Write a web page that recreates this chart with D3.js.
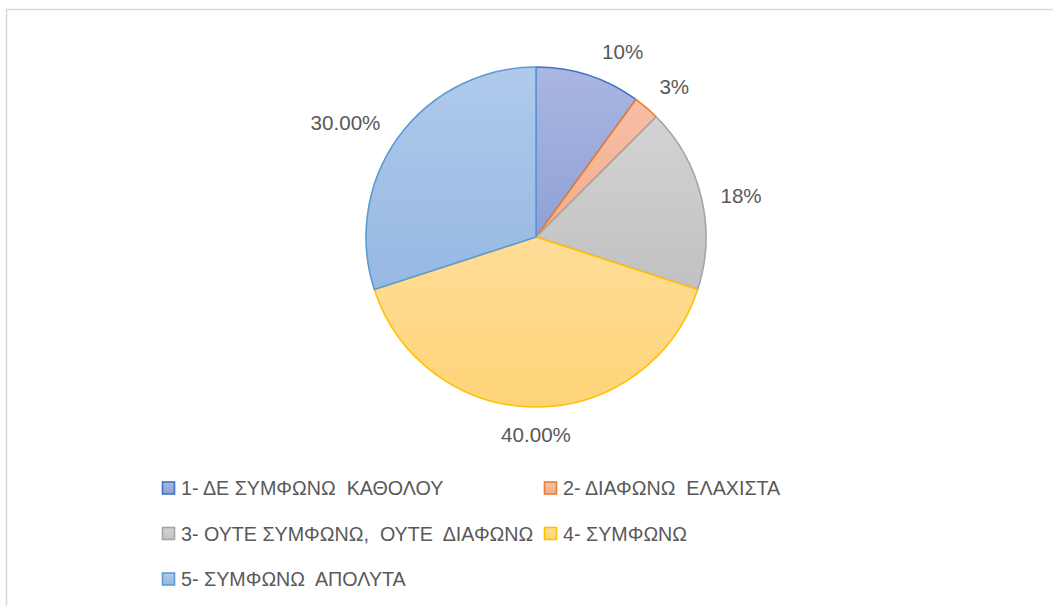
<!DOCTYPE html>
<html>
<head>
<meta charset="utf-8">
<script src="https://cdn.jsdelivr.net/npm/d3@7/dist/d3.min.js"></script>
<style>
  html, body { margin: 0; padding: 0; background: #fff; }
  svg { display: block; }
  text { font-family: "Liberation Sans", Arial, sans-serif; fill: #595959; white-space: pre; }
</style>
</head>
<body>
<svg id="chart" width="1053" height="606"></svg>
<script>
// Response categories and their shares (percent)
const categories = [
  "1- ΔΕ ΣΥΜΦΩΝΩ  ΚΑΘΟΛΟΥ",
  "2- ΔΙΑΦΩΝΩ  ΕΛΑΧΙΣΤΑ",
  "3- ΟΥΤΕ ΣΥΜΦΩΝΩ,  ΟΥΤΕ  ΔΙΑΦΩΝΩ",
  "4- ΣΥΜΦΩΝΩ",
  "5- ΣΥΜΦΩΝΩ  ΑΠΟΛΥΤΑ"
];
const values = [10, 2.5, 17.5, 40, 30];
// Decimal places used by each data label
const labelDecimals = [0, 0, 0, 2, 2];

// Slice styling: gradient top, gradient bottom, outline
const fillTop    = ["#aab6e2", "#f7bfa5", "#d3d3d3", "#fedd98", "#afcaeb"];
const fillBottom = ["#8fa1d6", "#f4ad8e", "#c1c1c1", "#fed477", "#96b8e2"];
const strokes    = ["#4472c4", "#ed7d31", "#a5a5a5", "#ffc000", "#5b9bd5"];

const svg = d3.select("#chart");
const W = 1053, H = 606;

// chart-area frame (right and bottom edges fall outside the view)
svg.append("rect")
  .attr("x", 6.5).attr("y", 9.5)
  .attr("width", W + 10).attr("height", H + 10)
  .attr("fill", "#fff").attr("stroke", "#d9d9d9").attr("stroke-width", 1.5);

const defs = svg.append("defs");
categories.forEach((c, i) => {
  const g = defs.append("linearGradient")
    .attr("id", "grad" + i)
    .attr("x1", 0).attr("y1", 0).attr("x2", 0).attr("y2", 1);
  g.append("stop").attr("offset", "0%").attr("stop-color", fillTop[i]);
  g.append("stop").attr("offset", "100%").attr("stop-color", fillBottom[i]);
});

const cx = 536, cy = 237, R = 170;

const pie = d3.pie().sort(null).value(d => d.value);
const data = pie(values.map((v, i) => ({ value: v, i })));
const arc = d3.arc().innerRadius(0).outerRadius(R);

const g = svg.append("g").attr("transform", `translate(${cx},${cy})`);

g.selectAll("path.slice")
  .data(data)
  .join("path")
  .attr("class", "slice")
  .attr("d", arc)
  .attr("fill", d => `url(#grad${d.data.i})`)
  .attr("stroke", d => strokes[d.data.i])
  .attr("stroke-width", 1.6)
  .attr("stroke-linejoin", "round");

// data labels, placed just outside the rim along each slice's direction
const labelSize = 20.6;
const labelGap = 17;
const angleNudge = [7, 2, 2, 0, -5]; // degrees, keeps labels clear of each other
const fmt = (v, dec) => (v).toFixed(dec) + "%";

data.forEach((d, k) => {
  const txt = fmt(d.data.value, labelDecimals[k]);
  const t = g.append("text")
    .attr("font-size", labelSize)
    .attr("text-anchor", "middle")
    .text(txt);
  const bb = t.node().getBBox();
  const w = bb.width, h = labelSize * 1.0;
  const a = (d.startAngle + d.endAngle) / 2 + angleNudge[k] * Math.PI / 180;
  const s = Math.sin(a), c = Math.cos(a);
  const r = R + labelGap + Math.abs(s) * w / 2 + Math.abs(c) * h / 2;
  t.attr("x", s * r).attr("y", -c * r).attr("dy", "0.36em");
});

// legend, two columns
const legX = [162, 544];
const legY = [488, 533.5, 579];
const sw = 13;
categories.forEach((c, i) => {
  const x = legX[i % 2], y = legY[Math.floor(i / 2)];
  const item = svg.append("g").attr("transform", `translate(${x},${y})`);
  item.append("rect")
    .attr("x", 0.5).attr("y", -sw / 2 + 0.5)
    .attr("width", sw - 1).attr("height", sw - 1)
    .attr("fill", `url(#grad${i})`)
    .attr("stroke", strokes[i]).attr("stroke-width", 1.6);
  item.append("text")
    .attr("x", sw + 6).attr("y", 0).attr("dy", "0.36em")
    .attr("font-size", 19.7)
    .text(c);
});
</script>
</body>
</html>
